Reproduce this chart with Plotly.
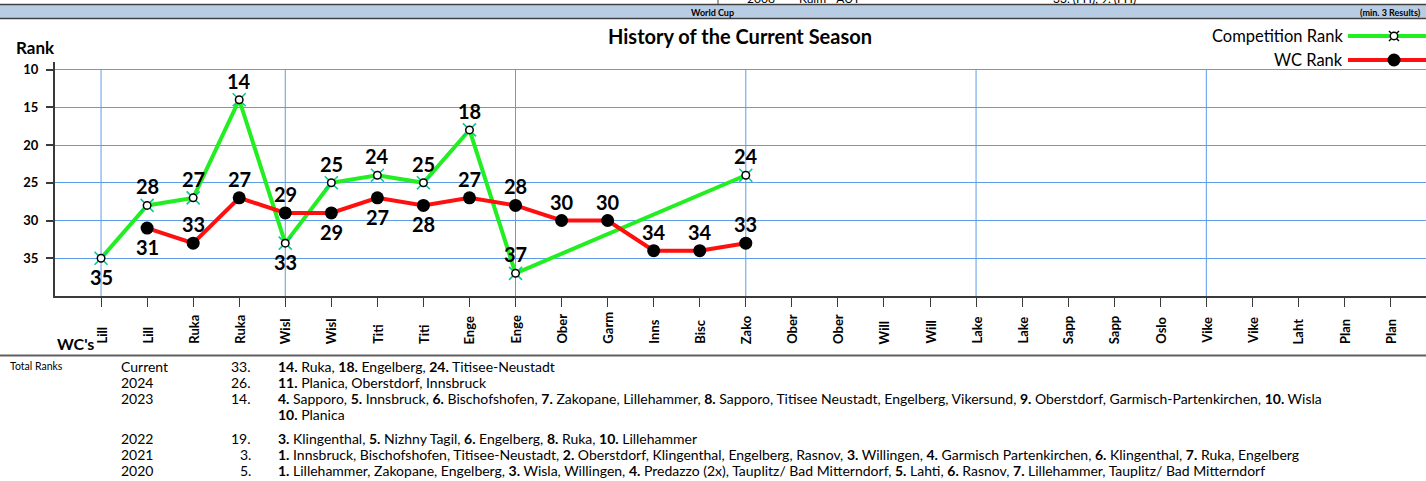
import plotly.graph_objects as go

# ---------------- data ----------------
categories = ["Lill", "Lill", "Ruka", "Ruka", "Wisl", "Wisl", "Titi", "Titi", "Enge", "Enge",
              "Ober", "Garm", "Inns", "Bisc", "Zako", "Ober", "Ober", "Will", "Will", "Lake",
              "Lake", "Sapp", "Sapp", "Oslo", "Vike", "Vike", "Laht", "Plan", "Plan"]
comp_rank = [35, 28, 27, 14, 33, 25, 24, 25, 18, 37, None, None, None, None, 24] + [None] * 14
wc_rank = [None, 31, 33, 27, 29, 29, 27, 28, 27, 28, 30, 30, 34, 34, 33] + [None] * 14
y_ticks = [10, 15, 20, 25, 30, 35]

table_years = ["Current", "2024", "2023", "", "2022", "2021", "2020"]
table_totals = ["33.", "26.", "14.", "", "19.", "3.", "5."]
table_results = [
    "<b>14.</b> Ruka, <b>18.</b> Engelberg, <b>24.</b> Titisee-Neustadt",
    "<b>11.</b> Planica, Oberstdorf, Innsbruck",
    "<b>4.</b> Sapporo, <b>5.</b> Innsbruck, <b>6.</b> Bischofshofen, <b>7.</b> Zakopane, Lillehammer, "
    "<b>8.</b> Sapporo, Titisee Neustadt, Engelberg, Vikersund, <b>9.</b> Oberstdorf, "
    "Garmisch-Partenkirchen, <b>10.</b> Wisla",
    "<b>10.</b> Planica",
    "<b>3.</b> Klingenthal, <b>5.</b> Nizhny Tagil, <b>6.</b> Engelberg, <b>8.</b> Ruka, <b>10.</b> Lillehammer",
    "<b>1.</b> Innsbruck, Bischofshofen, Titisee-Neustadt, <b>2.</b> Oberstdorf, Klingenthal, Engelberg, "
    "Rasnov, <b>3.</b> Willingen, <b>4.</b> Garmisch Partenkirchen, <b>6.</b> Klingenthal, <b>7.</b> Ruka, Engelberg",
    "<b>1.</b> Lillehammer, Zakopane, Engelberg, <b>3.</b> Wisla, Willingen, <b>4.</b> Predazzo (2x), "
    "Tauplitz/ Bad Mitterndorf, <b>5.</b> Lahti, <b>6.</b> Rasnov, <b>7.</b> Lillehammer, Tauplitz/ Bad Mitterndorf",
]

# ---------------- style ----------------
comp_label_side = ["below", "above", "above", "above", "below", "above", "above", "above", "above",
                   "above", None, None, None, None, "above"] + [None] * 14
wc_label_side = [None, "below", "above", "above", "above", "below", "below", "below", "above",
                 "above", "above", "above", "above", "above", "above"] + [None] * 14
v_grid_at = [0, 4, 9, 14, 19, 24]

FONT = "Lato, Carlito, 'Open Sans', sans-serif"
GREEN = "#22ee22"
RED = "#ff1010"
GRID = "#5d9de6"
AXIS = "#3a3a3a"

W, H = 1426, 481
ML, MR, MT, MB = 55, 0, 62, 185
PW, PH = W - ML - MR, H - MT - MB


def px(xp):
    return (xp - ML) / PW


def py(yp):
    return (MT + PH - yp) / PH


xs = list(range(len(categories)))

fig = go.Figure()

fig.add_trace(go.Scatter(x=xs, y=comp_rank, mode="lines", connectgaps=True,
                         line=dict(color=GREEN, width=4), hoverinfo="skip", showlegend=False))
fig.add_trace(go.Scatter(x=xs, y=wc_rank, mode="lines+markers", connectgaps=False,
                         line=dict(color=RED, width=4),
                         marker=dict(color="black", size=13), showlegend=False))
fig.add_trace(go.Scatter(x=xs, y=comp_rank, mode="markers",
                         marker=dict(symbol="x-thin-open", size=13, line=dict(color="black", width=1.6)),
                         showlegend=False))
fig.add_trace(go.Scatter(x=xs, y=comp_rank, mode="markers",
                         marker=dict(symbol="circle", size=7.5, color="white",
                                     line=dict(color="black", width=1.5)),
                         showlegend=False))

LABEL_SIZE = 20
annotations = []
for i, (v, side) in enumerate(zip(comp_rank, comp_label_side)):
    if v is None:
        continue
    annotations.append(dict(x=i, y=v, xref="x", yref="y", text=f"<b>{v}</b>", showarrow=False,
                            font=dict(family=FONT, size=LABEL_SIZE, color="black"),
                            yshift=19 if side == "above" else -19))
for i, (v, side) in enumerate(zip(wc_rank, wc_label_side)):
    if v is None:
        continue
    annotations.append(dict(x=i, y=v, xref="x", yref="y", text=f"<b>{v}</b>", showarrow=False,
                            font=dict(family=FONT, size=LABEL_SIZE, color="black"),
                            yshift=19 if side == "above" else -19))

for i, c in enumerate(categories):
    annotations.append(dict(x=i, y=py(346), xref="x", yref="paper", text=f"<b>{c}</b>",
                            textangle=-90, showarrow=False, yanchor="bottom", xanchor="center",
                            font=dict(family=FONT, size=13, color="black")))

annotations += [
    dict(x=px(55), y=py(343), xref="paper", yref="paper", text="<b>WC's</b>", showarrow=False,
         xanchor="left", yanchor="middle", font=dict(family=FONT, size=16, color="black")),
    dict(x=px(14), y=py(47), xref="paper", yref="paper", text="<b>Rank</b>", showarrow=False,
         xanchor="left", yanchor="middle", font=dict(family=FONT, size=17, color="black")),
    dict(x=px(740), y=py(36), xref="paper", yref="paper", text="<b>History of the Current Season</b>",
         showarrow=False, xanchor="center", yanchor="middle", font=dict(family=FONT, size=20, color="black")),
    dict(x=px(1345), y=py(36), xref="paper", yref="paper", text="Competition Rank", showarrow=False,
         xanchor="right", yanchor="middle", font=dict(family=FONT, size=16.5, color="black")),
    dict(x=px(1345), y=py(60), xref="paper", yref="paper", text="WC Rank", showarrow=False,
         xanchor="right", yanchor="middle", font=dict(family=FONT, size=16.5, color="black")),
    dict(x=px(712), y=py(12), xref="paper", yref="paper", text="<b>World Cup</b>", showarrow=False,
         xanchor="center", yanchor="middle", font=dict(family=FONT, size=9, color="black")),
    dict(x=px(1423), y=py(12), xref="paper", yref="paper", text="<b>(min. 3 Results)</b>", showarrow=False,
         xanchor="right", yanchor="middle", font=dict(family=FONT, size=9, color="black")),
    dict(x=px(745), y=py(-2), xref="paper", yref="paper", text="2008", showarrow=False,
         xanchor="left", yanchor="middle", font=dict(family=FONT, size=12, color="black")),
    dict(x=px(797), y=py(-2), xref="paper", yref="paper", text="Kulm - AUT", showarrow=False,
         xanchor="left", yanchor="middle", font=dict(family=FONT, size=12, color="black")),
    dict(x=px(1051), y=py(-2), xref="paper", yref="paper", text="33. (FH), 9. (FH)", showarrow=False,
         xanchor="left", yanchor="middle", font=dict(family=FONT, size=12, color="black")),
    dict(x=px(8), y=py(366), xref="paper", yref="paper", text="Total Ranks", showarrow=False,
         xanchor="left", yanchor="middle", font=dict(family=FONT, size=10.5, color="black")),
]

TABLE_SIZE = 14
row_y = [366, 382.5, 398.5, 414.5, 438, 454.5, 470.5]
for yy, yr, tot, res in zip(row_y, table_years, table_totals, table_results):
    if yr:
        annotations.append(dict(x=px(119), y=py(yy), xref="paper", yref="paper", text=yr, showarrow=False,
                                xanchor="left", yanchor="middle",
                                font=dict(family=FONT, size=TABLE_SIZE, color="black")))
    if tot:
        annotations.append(dict(x=px(253), y=py(yy), xref="paper", yref="paper", text=tot, showarrow=False,
                                xanchor="right", yanchor="middle",
                                font=dict(family=FONT, size=TABLE_SIZE, color="black")))
    annotations.append(dict(x=px(276), y=py(yy), xref="paper", yref="paper", text=res, showarrow=False,
                            xanchor="left", yanchor="middle",
                            font=dict(family=FONT, size=TABLE_SIZE, color="black")))

shapes = []
for g in v_grid_at:
    shapes.append(dict(type="line", xref="x", yref="y", x0=g, x1=g, y0=10, y1=40,
                       line=dict(color=GRID, width=1), layer="below"))
shapes += [
    dict(type="rect", xref="paper", yref="paper", x0=px(0), x1=px(W), y0=py(5), y1=py(18.5),
         fillcolor="#b8cce4", line=dict(width=0), layer="below"),
    dict(type="line", xref="paper", yref="paper", x0=px(0), x1=px(W), y0=py(4.5), y1=py(4.5),
         line=dict(color="#404040", width=1.5)),
    dict(type="line", xref="paper", yref="paper", x0=px(0), x1=px(W), y0=py(18.5), y1=py(18.5),
         line=dict(color="#404040", width=1.5)),
    dict(type="line", xref="paper", yref="paper", x0=px(718), x1=px(718), y0=py(0), y1=py(4.5),
         line=dict(color="#404040", width=1)),
    dict(type="line", xref="paper", yref="paper", x0=px(0), x1=px(W), y0=py(355.5), y1=py(355.5),
         line=dict(color="#606060", width=2)),
    dict(type="line", xref="paper", yref="paper", x0=px(1348), x1=px(W), y0=py(36), y1=py(36),
         line=dict(color=GREEN, width=4)),
    dict(type="line", xref="paper", yref="paper", x0=px(1348), x1=px(W), y0=py(60), y1=py(60),
         line=dict(color=RED, width=4)),
    dict(type="line", xref="paper", yref="paper", xsizemode="pixel", ysizemode="pixel",
         xanchor=px(1394), yanchor=py(36), x0=-5, x1=5, y0=-5, y1=5, line=dict(color="black", width=1.5)),
    dict(type="line", xref="paper", yref="paper", xsizemode="pixel", ysizemode="pixel",
         xanchor=px(1394), yanchor=py(36), x0=-5, x1=5, y0=5, y1=-5, line=dict(color="black", width=1.5)),
    dict(type="circle", xref="paper", yref="paper", xsizemode="pixel", ysizemode="pixel",
         xanchor=px(1394), yanchor=py(36), x0=-3.7, x1=3.7, y0=-3.7, y1=3.7,
         fillcolor="white", line=dict(color="black", width=1.4)),
    dict(type="circle", xref="paper", yref="paper", xsizemode="pixel", ysizemode="pixel",
         xanchor=px(1394), yanchor=py(60), x0=-6.5, x1=6.5, y0=-6.5, y1=6.5,
         fillcolor="black", line=dict(color="black", width=0)),
]

fig.update_layout(
    width=W, height=H,
    margin=dict(l=ML, r=MR, t=MT, b=MB, pad=0),
    paper_bgcolor="white", plot_bgcolor="white",
    showlegend=False,
    font=dict(family=FONT, color="black"),
    annotations=annotations,
    shapes=shapes,
    xaxis=dict(range=[-1, 28.77], tickvals=xs, showticklabels=False, showgrid=False, zeroline=False,
               showline=True, linecolor=AXIS, linewidth=2, ticks="outside", ticklen=9,
               tickcolor=AXIS, tickwidth=1),
    yaxis=dict(range=[40, 9], tickvals=y_ticks, ticktext=[f"<b>{t}</b>" for t in y_ticks],
               showgrid=True, gridcolor=GRID, gridwidth=1, zeroline=False,
               showline=True, linecolor=AXIS, linewidth=2, ticks="outside", ticklen=7,
               tickcolor=AXIS, tickwidth=1.5, ticklabelstandoff=5,
               tickfont=dict(family=FONT, size=13, color="black")),
)

fig.write_html("out.html", config={"displayModeBar": False},
               post_script="document.body.style.margin='0';document.body.style.padding='0';"
                           "document.documentElement.style.overflow='hidden';")
